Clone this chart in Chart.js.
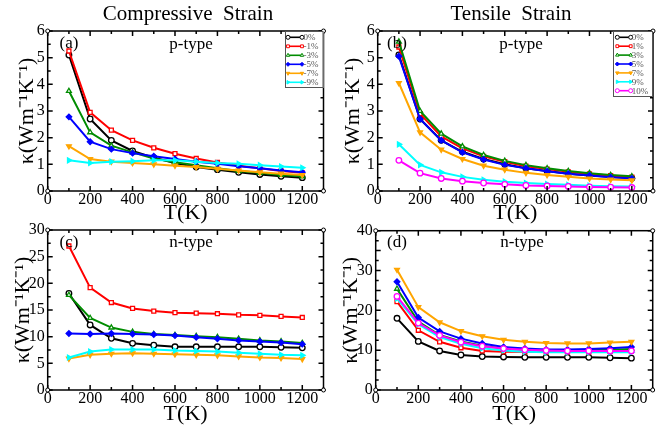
<!DOCTYPE html>
<html><head><meta charset="utf-8">
<script src="https://cdn.jsdelivr.net/npm/chart.js@4/dist/chart.umd.min.js"></script>
<style>
body{margin:0;background:#fff;width:661px;height:426px;overflow:hidden;position:relative;font-family:'Liberation Serif','Times New Roman',serif}
canvas{position:absolute}
.t{position:absolute;white-space:pre;color:#000;line-height:1;transform:translate(-50%,-50%)}
</style></head><body>
<canvas id="ca" width="330" height="226" style="left:0;top:0"></canvas>
<canvas id="cb" width="331" height="226" style="left:330px;top:0"></canvas>
<canvas id="cc" width="330" height="213" style="left:0;top:213px"></canvas>
<canvas id="cd" width="331" height="213" style="left:330px;top:213px"></canvas>
<div class="t" style="left:188px;top:13px;font-size:21px">Compressive  Strain</div>
<div class="t" style="left:511px;top:13px;font-size:21px">Tensile  Strain</div>
<div class="t" style="left:69px;top:42px;font-size:17px">(a)</div>
<div class="t" style="left:191px;top:43px;font-size:17px">p-type</div>
<div class="t" style="left:397px;top:42px;font-size:17px">(b)</div>
<div class="t" style="left:521px;top:43px;font-size:17px">p-type</div>
<div class="t" style="left:69px;top:241px;font-size:17px">(c)</div>
<div class="t" style="left:191px;top:241px;font-size:17px">n-type</div>
<div class="t" style="left:397px;top:241px;font-size:17px">(d)</div>
<div class="t" style="left:522px;top:241px;font-size:17px">n-type</div>
<script>
// ---- data ----
const temps = [100,200,300,400,500,600,700,800,900,1000,1100,1200];
const compLabels = ['0%','-1%','-3%','-5%','-7%','-9%'];
const tensLabels = ['0%','1%','3%','5%','7%','9%','10%'];
const xTickLabels = [0,200,400,600,800,1000,1200];

// (a) compressive, p-type
const pC_0  = [5.1,2.7,1.9,1.5,1.25,1.05,0.9,0.8,0.7,0.62,0.55,0.5];
const pC_m1 = [5.25,2.95,2.28,1.9,1.62,1.4,1.22,1.07,0.95,0.85,0.75,0.68];
const pC_m3 = [3.75,2.2,1.7,1.45,1.22,1.08,0.97,0.85,0.75,0.68,0.6,0.55];
const pC_m5 = [2.78,1.85,1.57,1.42,1.3,1.2,1.1,1.02,0.93,0.85,0.77,0.7];
const pC_m7 = [1.68,1.2,1.1,1.05,1.0,0.95,0.9,0.83,0.77,0.7,0.65,0.6];
const pC_m9 = [1.15,1.05,1.1,1.12,1.15,1.15,1.1,1.05,1.02,0.97,0.92,0.87];
// (b) tensile, p-type
const pT_0  = [5.1,2.7,1.9,1.47,1.2,1.0,0.85,0.75,0.65,0.58,0.53,0.48];
const pT_1  = [5.4,2.9,2.05,1.6,1.3,1.1,0.93,0.82,0.72,0.64,0.58,0.52];
const pT_3  = [5.6,3.0,2.15,1.67,1.35,1.13,0.97,0.85,0.75,0.67,0.6,0.55];
const pT_5  = [5.05,2.7,1.9,1.45,1.18,0.98,0.85,0.74,0.65,0.58,0.52,0.47];
const pT_7  = [4.05,2.2,1.55,1.2,0.95,0.8,0.68,0.6,0.53,0.47,0.43,0.4];
const pT_9  = [1.75,0.98,0.7,0.53,0.42,0.35,0.3,0.26,0.23,0.2,0.18,0.17];
const pT_10 = [1.15,0.67,0.47,0.37,0.3,0.25,0.21,0.19,0.17,0.15,0.14,0.13];
// (c) compressive, n-type
const nC_0  = [18.1,12.2,9.7,8.75,8.4,8.1,8.1,8.1,8.1,8.1,8.0,7.9];
const nC_m1 = [27.0,19.2,16.4,15.3,14.8,14.5,14.4,14.3,14.1,14.0,13.8,13.6];
const nC_m3 = [17.8,13.5,11.7,10.9,10.5,10.3,10.1,9.9,9.6,9.3,9.1,8.8];
const nC_m5 = [10.6,10.5,10.6,10.5,10.4,10.2,9.9,9.6,9.3,9.1,8.9,8.6];
const nC_m7 = [5.9,6.6,6.8,6.9,6.8,6.7,6.6,6.5,6.3,6.1,6.0,5.8];
const nC_m9 = [6.1,7.2,7.6,7.6,7.6,7.4,7.3,7.2,7.0,6.8,6.6,6.5];
// (d) tensile, n-type
const nT_0  = [18.0,12.2,9.8,8.8,8.4,8.3,8.2,8.2,8.2,8.2,8.1,8.0];
const nT_1  = [22.2,15.0,12.1,10.6,9.8,9.6,9.6,9.6,9.6,9.6,9.7,9.8];
const nT_3  = [25.4,17.2,13.8,12.2,11.1,10.4,10.1,9.9,9.9,10.0,10.1,10.3];
const nT_5  = [27.2,18.2,14.7,12.9,11.7,10.8,10.4,10.2,10.2,10.3,10.5,10.8];
const nT_7  = [30.2,20.8,17.0,14.8,13.5,12.6,12.1,11.8,11.7,11.7,11.9,12.1];
const nT_9  = [23.0,16.5,13.3,11.6,10.5,9.9,9.6,9.5,9.5,9.5,9.5,9.5];
const nT_10 = [23.5,16.8,13.7,12.0,11.0,10.4,10.1,9.9,9.8,9.8,9.8,9.8];

// ---- styles ----
const STY = [
  {c:'#000000', s:'circle',   r:0,   fill:false},
  {c:'#ff0000', s:'rect',     r:0,   fill:false},
  {c:'#008c00', s:'triangle', r:0,   fill:false},
  {c:'#0000ff', s:'rectRot',  r:0,   fill:true},
  {c:'#ffa500', s:'triangle', r:180, fill:true},
  {c:'#00ffff', s:'triangle', r:90,  fill:true},
  {c:'#ff00ff', s:'circle',   r:0,   fill:false}
];
const FONT = "'Liberation Serif','Times New Roman',serif";

function mkDatasets(labels, series){
  return series.map((arr,i)=>({
    label: labels[i],
    data: temps.map((t,k)=>({x:t, y:arr[k]})),
    borderColor: STY[i].c,
    backgroundColor: STY[i].fill ? STY[i].c : '#ffffff',
    pointBorderColor: STY[i].c,
    pointBackgroundColor: STY[i].fill ? STY[i].c : '#ffffff',
    pointStyle: STY[i].s,
    pointRotation: STY[i].r,
    pointRadius: 2.8,
    pointBorderWidth: 1.3,
    borderWidth: 2,
    tension: 0,
    order: -i
  }));
}

const framePlugin = {
  id: 'frame',
  afterDraw(chart, args, o){
    const {ctx, chartArea:a} = chart;
    const x = chart.scales.x, y = chart.scales.y;
    ctx.save();
    ctx.strokeStyle = '#000'; ctx.lineWidth = 1.5;
    ctx.beginPath();
    for (let v = 0; v <= x.max + 1e-9; v += 100){
      const px = x.getPixelForValue(v);
      const L = (v % 200 === 0) ? 5 : 3;
      ctx.moveTo(px, a.bottom); ctx.lineTo(px, a.bottom - L);
      ctx.moveTo(px, a.top); ctx.lineTo(px, a.top + L);
    }
    for (let v = 0; v <= y.max + 1e-9; v += o.yMinor){
      const py = y.getPixelForValue(v);
      const major = Math.abs(v/o.yMajor - Math.round(v/o.yMajor)) < 1e-6;
      const L = major ? 5 : 3;
      ctx.moveTo(a.left, py); ctx.lineTo(a.left + L, py);
      ctx.moveTo(a.right, py); ctx.lineTo(a.right - L, py);
    }
    ctx.stroke();
    ctx.strokeRect(a.left, a.top, a.right - a.left, a.bottom - a.top);
    // corner markers
    ctx.lineWidth = 1; ctx.fillStyle = '#fff';
    [[a.left,a.top],[a.right,a.top],[a.left,a.bottom],[a.right,a.bottom]].forEach(p=>{
      ctx.beginPath(); ctx.arc(p[0],p[1],2,0,Math.PI*2); ctx.fill(); ctx.stroke();
    });
    // legend
    const lg = o.legend;
    if (lg){
      const ds = chart.data.datasets;
      const bx = a.right - lg.w, by = a.top;
      ctx.fillStyle = '#fff';
      ctx.fillRect(bx, by, lg.w, lg.h);
      ctx.strokeStyle = '#555'; ctx.lineWidth = 1;
      ctx.strokeRect(bx+0.5, by+0.5, lg.w-1, lg.h-1);
      ctx.font = "9px " + FONT;
      ctx.textBaseline = 'middle'; ctx.textAlign = 'left';
      ds.forEach((d,i)=>{
        const yy = by + lg.y0 + i*lg.dy;
        const x0 = bx + lg.l0, x1 = bx + lg.l1;
        ctx.strokeStyle = d.borderColor; ctx.lineWidth = 1.6;
        ctx.beginPath(); ctx.moveTo(x0,yy); ctx.lineTo(x1,yy); ctx.stroke();
        [x0,x1].forEach(px=>{
          ctx.fillStyle = d.pointBackgroundColor; ctx.strokeStyle = d.borderColor; ctx.lineWidth = 1;
          if (Chart.helpers && Chart.helpers.drawPoint){
            Chart.helpers.drawPoint(ctx, {pointStyle:d.pointStyle, rotation:d.pointRotation, radius:2, borderWidth:1}, px, yy);
          } else {
            ctx.beginPath(); ctx.arc(px,yy,2,0,Math.PI*2); ctx.fill(); ctx.stroke();
          }
        });
        ctx.fillStyle = '#555';
        ctx.fillText(d.label, bx + lg.tx, yy + 0.5);
      });
    }
    ctx.restore();
  }
};

function makeChart(id, w, h, area, ymax, ystep, datasets, legend, yTitlePad, xTitlePad){
  return new Chart(document.getElementById(id), {
    type: 'line',
    data: {datasets},
    options: {
      responsive: false, animation: false,
      devicePixelRatio: 1,
      layout: {padding: {left: 0, top: area.t, right: w - area.r, bottom: 0}},
      plugins: {legend:{display:false}, tooltip:{enabled:false},
        frame: {yMajor: ystep, yMinor: ystep/2, legend}},
      scales: {
        x: {type:'linear', min:0, max:1300,
          grid:{display:false, drawTicks:false}, border:{display:false},
          ticks:{stepSize:100, maxTicksLimit:30, autoSkip:false, maxRotation:0, padding:-1, color:'#000',
            font:{family:FONT, size:16},
            callback:(v)=> xTickLabels.includes(v) ? String(v) : ''},
          title:{display:true, text:'T(K)', color:'#000', font:{family:FONT, size:22, lineHeight:1},
            padding:{top:0, bottom:xTitlePad}},
          afterFit:(s)=>{ s.height = h - area.b; }
        },
        y: {type:'linear', min:0, max:ymax,
          grid:{display:false, drawTicks:false}, border:{display:false},
          ticks:{stepSize:ystep, padding:3, color:'#000', font:{family:FONT, size:16}},
          title:{display:true, text:'κ(Wm⁻¹K⁻¹)', color:'#000', font:{family:FONT, size:22, lineHeight:1},
            padding:{top:yTitlePad, bottom:0}},
          afterFit:(s)=>{ s.width = area.l; }
        }
      }
    },
    plugins: [framePlugin]
  });
}

makeChart('ca', 330, 226, {l:47.7, t:31, r:323.5, b:191}, 6, 1,
  mkDatasets(compLabels, [pC_0,pC_m1,pC_m3,pC_m5,pC_m7,pC_m9]),
  {w:38.5, h:57, y0:6.3, dy:9, l0:3, l1:17, tx:18.5}, 16, 2);
makeChart('cb', 331, 226, {l:47.7, t:31, r:323, b:191}, 6, 1,
  mkDatasets(tensLabels, [pT_0,pT_1,pT_3,pT_5,pT_7,pT_9,pT_10]),
  {w:40, h:66, y0:6.3, dy:8.9, l0:4.3, l1:17.7, tx:18.7}, 12, 2);
makeChart('cc', 330, 213, {l:47.7, t:17, r:323.5, b:177}, 30, 5,
  mkDatasets(compLabels, [nC_0,nC_m1,nC_m3,nC_m5,nC_m7,nC_m9]),
  null, 12, 1);
makeChart('cd', 331, 213, {l:45.7, t:17.7, r:322.7, b:177}, 40, 5,
  mkDatasets(tensLabels, [nT_0,nT_1,nT_3,nT_5,nT_7,nT_9,nT_10]),
  null, 10, 1);
</script>
</body></html>
